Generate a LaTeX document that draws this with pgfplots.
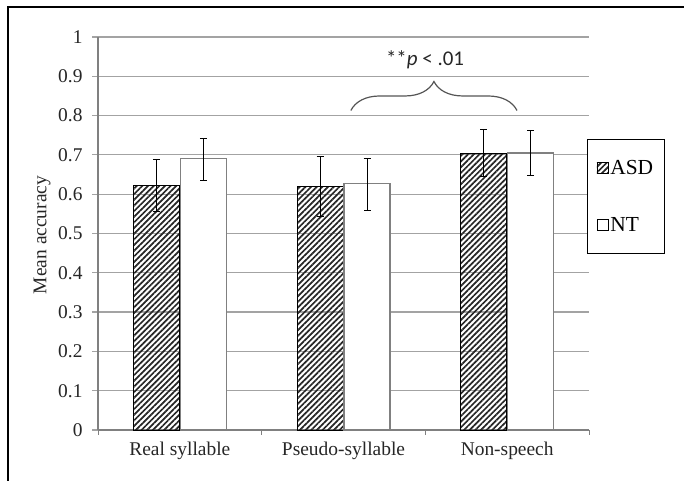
\documentclass[border=0pt]{standalone}
\usepackage{fontspec}
\setmainfont{Liberation Serif}
\newfontfamily\calibri{Carlito}
\usepackage{pgfplots}
\pgfplotsset{compat=1.18}
\usetikzlibrary{patterns.meta,decorations.pathreplacing}

\definecolor{axisgray}{HTML}{808080}
\definecolor{gridgray}{HTML}{A3A3A3}
\definecolor{bracegray}{HTML}{555555}

\begin{document}
\begin{tikzpicture}[x=1bp,y=1bp]
\useasboundingbox (0,0) rectangle (684,481);
% outer frame (left and top only)
\draw[black, line width=2.2bp] (8,0) -- (8,474) -- (684,474);

\begin{axis}[
    at={(98bp,51bp)}, anchor=south west,
    scale only axis,
    width=491bp, height=393bp,
    clip=false,
    xmin=-0.5, xmax=2.5,
    ymin=0, ymax=1,
    axis x line*=bottom, axis y line*=left,
    axis line style={-, axisgray, line width=1.6bp},
    xtick={0,1,2},
    xticklabels={Real syllable, Pseudo-syllable, Non-speech},
    major x tick style={draw=none},
    minor xtick={-0.5,0.5,1.5,2.5},
    minor x tick style={axisgray, line width=1bp},
    minor tick length=5bp,
    ytick={0,0.1,...,1.0},
    major tick length=6bp,
    tick align=outside,
    y tick style={gridgray, line width=1.2bp},
    ymajorgrids,
    grid style={gridgray, line width=1.2bp},
    /pgf/number format/assume math mode=true,
    tick label style={font=\fontsize{19.5}{21}\selectfont, text=black!85},
    yticklabel style={xshift=-6bp},
    xticklabel style={yshift=-3bp},
    yticklabel={\pgfmathprintnumber[fixed,precision=1]{\tick}},
    legend style={at={(rel axis cs:0.996,0.740)}, anchor=north west,
        draw=black, line width=1bp, fill=white,
        font=\fontsize{21.5}{24}\selectfont,
        inner xsep=9bp, inner ysep=19bp, row sep=37bp},
    legend cell align=left,
    error bars/error bar style={black, line width=1bp},
    error bars/error mark options={black, line width=1bp, mark size=3.5bp, rotate=90},
]

% ASD (bars drawn at their own x positions, left of each category centre)
\addplot[ybar, bar width=46bp, bar shift=0pt, draw=black, line width=0.8bp,
    pattern={Lines[angle=45, distance=4bp, line width=1.7bp]}, pattern color=black!85,
    legend image code/.code={\draw[pattern={Lines[angle=45, distance=4bp, line width=1.7bp]}, draw=black, line width=0.8bp] (0bp,-5bp) rectangle (11bp,6bp);},
    error bars/.cd, y dir=both, y explicit]
    coordinates {
    (-0.1436,0.623) += (0,0.065) -= (0,0.068)
    (0.8564,0.620) += (0,0.075) -= (0,0.076)
    (1.8564,0.703) += (0,0.062) -= (0,0.059)
    };
\addlegendentry{ASD}

% NT
\addplot[ybar, bar width=46bp, bar shift=0pt, draw=axisgray, line width=1.3bp, fill=white,
    legend image code/.code={\draw[draw=black, line width=0.8bp, fill=white] (0bp,-5bp) rectangle (11bp,6bp);},
    error bars/.cd, y dir=both, y explicit]
    coordinates {
    (0.1436,0.691) += (0,0.051) -= (0,0.055)
    (1.1436,0.627) += (0,0.064) -= (0,0.068)
    (2.1436,0.705) += (0,0.058) -= (0,0.058)
    };
\addlegendentry{NT}

\draw[decorate, decoration={brace, amplitude=29bp}, draw=bracegray, line width=1.2bp]
    (axis cs:1.045,0.813) -- (axis cs:2.06,0.813);
\node[font=\calibri\fontsize{21}{24}\selectfont, text=black!85]
    at (axis cs:1.498,0.943) {**\textit{p} < .01};
\end{axis}

\node[rotate=90, font=\fontsize{19.5}{21}\selectfont, text=black!85] at (42,246) {Mean accuracy};
\end{tikzpicture}
\end{document}
